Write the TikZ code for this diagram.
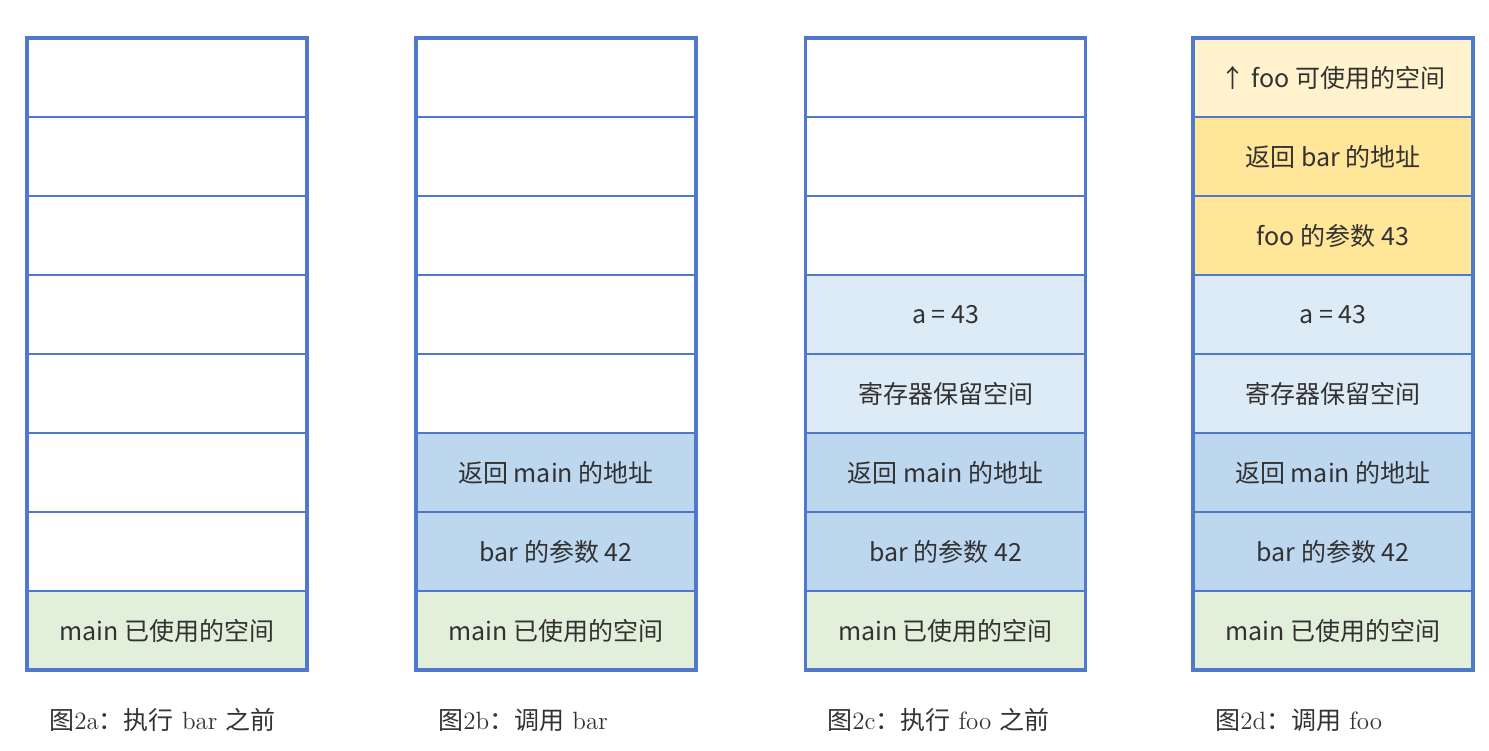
\documentclass[tikz,border=0pt]{standalone}
\usepackage{fontspec}
\newfontfamily\cjk{Noto Sans CJK SC}
\definecolor{bordc}{RGB}{80,120,204}
\definecolor{cgreen}{RGB}{226,239,218}
\definecolor{cblue}{RGB}{189,215,238}
\definecolor{clblue}{RGB}{221,235,247}
\definecolor{cyellow}{RGB}{255,230,153}
\definecolor{clyellow}{RGB}{255,242,204}
\definecolor{txt}{RGB}{50,50,50}
\tikzset{
  cell/.style={draw=bordc, line width=1pt, minimum width=140pt, minimum height=39.5pt,
    inner sep=0pt, outer sep=0pt, text=txt, font=\cjk\fontsize{12.5pt}{14pt}\selectfont},
  outerbox/.style={draw=bordc, line width=1.6pt},
  caption/.style={anchor=west, text=txt, inner sep=0pt, font=\fontsize{12.5pt}{14pt}\selectfont}
}
\newcommand\zh[1]{{\cjk #1}}
\begin{document}
\begin{tikzpicture}[x=0.5pt,y=-0.5pt]
\useasboundingbox (0,0) rectangle (1489,750);
% column 1
\foreach \i/\y in {1/77.5,2/156.5,3/235.5,4/314.5,5/393.5,6/472.5,7/551.5}{
  \node[cell, fill=white] (a\i) at (167,\y) {};
}
\node[cell, fill=cgreen] (a8) at (167,630.5) {main 已使用的空间};
\draw[outerbox] (a1.north west) rectangle (a8.south east);
% column 2
\foreach \i/\y in {1/77.5,2/156.5,3/235.5,4/314.5,5/393.5}{
  \node[cell, fill=white] (b\i) at (556,\y) {};
}
\node[cell, fill=cblue] (b6) at (556,472.5) {返回 main 的地址};
\node[cell, fill=cblue] (b7) at (556,551.5) {bar 的参数 42};
\node[cell, fill=cgreen] (b8) at (556,630.5) {main 已使用的空间};
\draw[outerbox] (b1.north west) rectangle (b8.south east);
% column 3
\foreach \i/\y in {1/77.5,2/156.5,3/235.5}{
  \node[cell, fill=white] (c\i) at (945.5,\y) {};
}
\node[cell, fill=clblue] (c4) at (945.5,314.5) {a = 43};
\node[cell, fill=clblue] (c5) at (945.5,393.5) {寄存器保留空间};
\node[cell, fill=cblue] (c6) at (945.5,472.5) {返回 main 的地址};
\node[cell, fill=cblue] (c7) at (945.5,551.5) {bar 的参数 42};
\node[cell, fill=cgreen] (c8) at (945.5,630.5) {main 已使用的空间};
\draw[outerbox] (c1.north west) rectangle (c8.south east);
% column 4
\node[cell, fill=clyellow] (d1) at (1333,77.5) {↑ foo 可使用的空间};
\node[cell, fill=cyellow] (d2) at (1333,156.5) {返回 bar 的地址};
\node[cell, fill=cyellow] (d3) at (1333,235.5) {foo 的参数 43};
\node[cell, fill=clblue] (d4) at (1333,314.5) {a = 43};
\node[cell, fill=clblue] (d5) at (1333,393.5) {寄存器保留空间};
\node[cell, fill=cblue] (d6) at (1333,472.5) {返回 main 的地址};
\node[cell, fill=cblue] (d7) at (1333,551.5) {bar 的参数 42};
\node[cell, fill=cgreen] (d8) at (1333,630.5) {main 已使用的空间};
\draw[outerbox] (d1.north west) rectangle (d8.south east);
% captions
\node[caption] (capa) at (49,720) {\zh{图}2a\zh{：执行} bar \zh{之前}};
\node[caption] (capb) at (438,720) {\zh{图}2b\zh{：调用} bar};
\node[caption] (capc) at (827,720) {\zh{图}2c\zh{：执行} foo \zh{之前}};
\node[caption] (capd) at (1215,720) {\zh{图}2d\zh{：调用} foo};
\end{tikzpicture}
\end{document}
